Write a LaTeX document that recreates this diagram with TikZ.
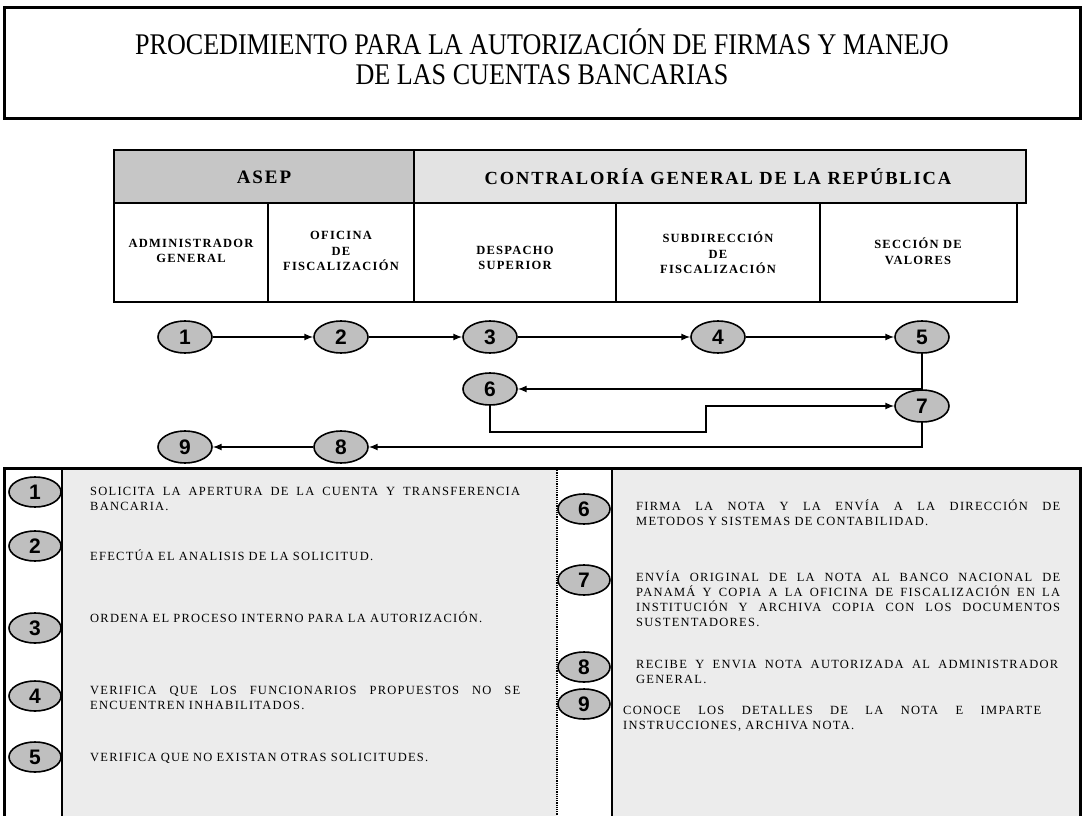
\documentclass[tikz,border=0pt]{standalone}
\usepackage{fontspec}
\setmainfont{Liberation Serif}
\newfontfamily\titlefont[FakeStretch=0.87]{Liberation Serif}
\newfontfamily\headfont[LetterSpace=10]{Liberation Serif}
\newfontfamily\descfont[LetterSpace=10]{Liberation Serif}
\newfontfamily\numfont{Liberation Sans}
\usepackage{tikz}
\usetikzlibrary{shapes, arrows, positioning}

\newcommand{\jline}[2]{\makebox[#1][s]{\spaceskip=0pt\xspaceskip=0pt #2}}

\begin{document}
\begin{tikzpicture}[
            x=1pt, y=-1pt,
            paso/.style={ellipse, draw, line width=1.6pt, fill=gray!50, minimum width=54pt, minimum height=32pt, inner sep=0pt, font=\numfont\bfseries\fontsize{21}{21}\selectfont},
            celda/.style={align=center, font=\headfont\bfseries\fontsize{12.5}{15.5}\selectfont},
            texto/.style={anchor=base west, inner sep=0pt, align=left, font=\descfont\fontsize{12.5}{15}\selectfont},
            flecha/.style={->, >=latex, line width=2pt},
            marco/.style={draw, line width=3pt}
        ]
        \clip (0,0) rectangle (1084,816);
        \fill[white] (0,0) rectangle (1084,816);

        % Title
        \draw[marco] (4,8) rectangle (1080,118);
        \node[align=center, font=\titlefont\fontsize{30}{30}\selectfont] (title) at (542,57)
              {PROCEDIMIENTO PARA LA AUTORIZACIÓN DE FIRMAS Y MANEJO\\DE LAS CUENTAS BANCARIAS};

        % Header table
        \filldraw[fill=gray!45, line width=2.5pt] (114,150) rectangle (414,203);
        \filldraw[fill=gray!22, line width=2.5pt] (414,150) rectangle (1026,203);
        \node[font=\headfont\bfseries\fontsize{19}{19}\selectfont] (asep) at (264,177) {ASEP};
        \node[font=\headfont\bfseries\fontsize{18.5}{18.5}\selectfont] (cgr) at (718,177) {CONTRALORÍA GENERAL DE LA REPÚBLICA};
        \draw[line width=2.5pt] (114,203) rectangle (1017,302);
        \draw[line width=2.5pt] (268,203) -- (268,302);
        \draw[line width=2.5pt] (414,203) -- (414,302);
        \draw[line width=2.5pt] (616,203) -- (616,302);
        \draw[line width=2.5pt] (820,203) -- (820,302);

        \node[celda] (admin) at (191,251) {ADMINISTRADOR\\GENERAL};
        \node[celda] (ofic) at (341,251) {OFICINA\\DE\\FISCALIZACIÓN};
        \node[celda] (desp) at (515,258) {DESPACHO\\SUPERIOR};
        \node[celda] (subd) at (718,253) {SUBDIRECCIÓN\\DE\\FISCALIZACIÓN};
        \node[celda] (secc) at (918,251) {SECCIÓN DE\\VALORES};

        % Flow
        \node[paso] (o1) at (185,337) {1};
        \node[paso] (o2) at (341,337) {2};
        \node[paso] (o3) at (490,337) {3};
        \node[paso] (o4) at (718,337) {4};
        \node[paso] (o5) at (922,337) {5};
        \node[paso] (o6) at (490,389) {6};
        \node[paso] (o7) at (922,406) {7};
        \node[paso] (o8) at (341,447) {8};
        \node[paso] (o9) at (185,447) {9};
        \coordinate (q1) at (706,432);

        \draw[flecha] (o1) -- (o2);
        \draw[flecha] (o2) -- (o3);
        \draw[flecha] (o3) -- (o4);
        \draw[flecha] (o4) -- (o5);
        \draw[flecha] (o5.south) |- (o6.east);
        \draw[flecha] (o6.south) |- (q1) |- (o7.west);
        \draw[flecha] (o7.south) |- (o8.east);
        \draw[flecha] (o8) -- (o9);

        % Legend table
        \fill[gray!15] (62,468) rectangle (557,830);
        \fill[gray!15] (612,468) rectangle (1080,830);
        \draw[line width=3pt] (4,468) rectangle (1080,830);
        \draw[line width=2.5pt] (62,468) -- (62,830);
        \draw[line width=1.2pt, densely dotted] (557,468) -- (557,830);
        \draw[line width=2.5pt] (612,468) -- (612,830);

        \node[paso, minimum width=52pt, minimum height=30pt] (s1) at (35,492) {1};
        \node[paso, minimum width=52pt, minimum height=30pt] (s2) at (35,546) {2};
        \node[paso, minimum width=52pt, minimum height=30pt] (s3) at (35,628) {3};
        \node[paso, minimum width=52pt, minimum height=30pt] (s4) at (35,696) {4};
        \node[paso, minimum width=52pt, minimum height=30pt] (s5) at (35,757) {5};
        \node[paso, minimum width=52pt, minimum height=30pt] (s6) at (584,509) {6};
        \node[paso, minimum width=52pt, minimum height=30pt] (s7) at (584,580) {7};
        \node[paso, minimum width=52pt, minimum height=30pt] (s8) at (584,667) {8};
        \node[paso, minimum width=52pt, minimum height=30pt] (s9) at (584,704) {9};

        \node[texto, text width=432pt] (t1) at (90,495) {\jline{430pt}{SOLICITA LA APERTURA DE LA CUENTA Y TRANSFERENCIA}\\BANCARIA.};
        \node[texto, text width=432pt] (t2) at (90,560) {EFECTÚA EL ANALISIS DE LA SOLICITUD.};
        \node[texto, text width=432pt] (t3) at (90,622) {ORDENA EL PROCESO INTERNO PARA LA AUTORIZACIÓN.};
        \node[texto, text width=432pt] (t4) at (90,694) {\jline{430pt}{VERIFICA QUE LOS FUNCIONARIOS PROPUESTOS NO SE}\\ENCUENTREN INHABILITADOS.};
        \node[texto, text width=432pt] (t5) at (90,761) {VERIFICA QUE NO EXISTAN OTRAS SOLICITUDES.};
        \node[texto, text width=426pt] (t6) at (636,510) {\jline{424pt}{FIRMA LA NOTA Y LA ENVÍA A LA DIRECCIÓN DE}\\METODOS Y SISTEMAS DE CONTABILIDAD.};
        \node[texto, text width=426pt] (t7) at (636,581) {\jline{424pt}{ENVÍA ORIGINAL DE LA NOTA AL BANCO NACIONAL DE}\\\jline{424pt}{PANAMÁ Y COPIA A LA OFICINA DE FISCALIZACIÓN EN LA}\\\jline{424pt}{INSTITUCIÓN Y ARCHIVA COPIA CON LOS DOCUMENTOS}\\SUSTENTADORES.};
        \node[texto, text width=426pt] (t8) at (636,668) {\jline{422pt}{RECIBE Y ENVIA NOTA AUTORIZADA AL ADMINISTRADOR}\\GENERAL.};
        \node[texto, text width=426pt] (t9) at (623,714) {\jline{418pt}{CONOCE LOS DETALLES DE LA NOTA E IMPARTE}\\INSTRUCCIONES, ARCHIVA NOTA.};

    \end{tikzpicture}
\end{document}
